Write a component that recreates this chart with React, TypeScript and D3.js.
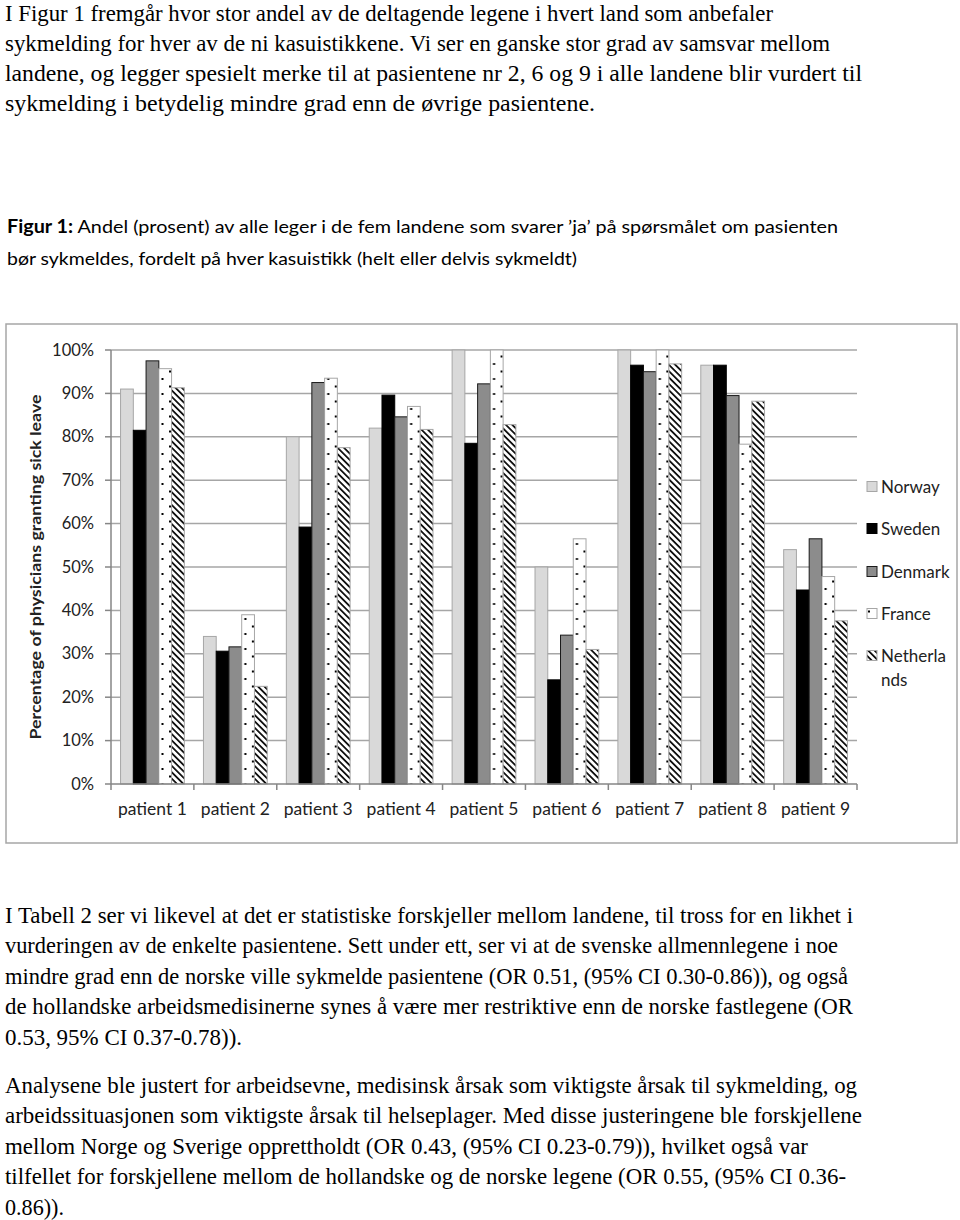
import React from "react";
import * as d3 from "d3";

const patients = ["patient 1", "patient 2", "patient 3", "patient 4", "patient 5", "patient 6", "patient 7", "patient 8", "patient 9"];
const countries = ["Norway", "Sweden", "Denmark", "France", "Netherlands"];
const norway = [91, 34, 80, 82, 100, 50, 100, 96.5, 54];
const sweden = [81.5, 30.6, 59.2, 89.6, 78.5, 24, 96.5, 96.5, 44.7];
const denmark = [97.5, 31.6, 92.5, 84.6, 92.2, 34.3, 95, 89.5, 56.5];
const france = [95.7, 39, 93.5, 87, 100, 56.5, 100, 78.3, 47.8];
const netherlands = [91.3, 22.5, 77.5, 81.7, 82.8, 31, 96.8, 88.2, 37.6];
const yTicks = [0, 10, 20, 30, 40, 50, 60, 70, 80, 90, 100];

const topText = [
  "I Figur 1 fremgår hvor stor andel av de deltagende legene i hvert land som anbefaler",
  "sykmelding for hver av de ni kasuistikkene. Vi ser en ganske stor grad av samsvar mellom",
  "landene, og legger spesielt merke til at pasientene nr 2, 6 og 9 i alle landene blir vurdert til",
  "sykmelding i betydelig mindre grad enn de øvrige pasientene.",
];
const topWidths = [768, 825, 857, 590];
const para1 = [
  "I Tabell 2 ser vi likevel at det er statistiske forskjeller mellom landene, til tross for en likhet i",
  "vurderingen av de enkelte pasientene. Sett under ett, ser vi at de svenske allmennlegene i noe",
  "mindre grad enn de norske ville sykmelde pasientene (OR 0.51, (95% CI 0.30-0.86)), og også",
  "de hollandske arbeidsmedisinerne synes å være mer restriktive enn de norske fastlegene (OR",
  "0.53, 95% CI 0.37-0.78)).",
];
const para1Widths = [848, 833, 843, 848, 237];
const para2 = [
  "Analysene ble justert for arbeidsevne, medisinsk årsak som viktigste årsak til sykmelding, og",
  "arbeidssituasjonen som viktigste årsak til helseplager. Med disse justeringene ble forskjellene",
  "mellom Norge og Sverige opprettholdt (OR 0.43, (95% CI 0.23-0.79)), hvilket også var",
  "tilfellet for forskjellene mellom de hollandske og de norske legene (OR 0.55, (95% CI 0.36-",
  "0.86)).",
];
const para2Widths = [852, 857, 803, 841, 59];

const series = [norway, sweden, denmark, france, netherlands];
const fills = ["#d9d9d9", "#000000", "#8c8c8c", "url(#dots)", "url(#hatch)"];
const strokes = ["#a6a6a6", "#000000", "#1a1a1a", "#a6a6a6", "#a6a6a6"];

export default function App() {
  const x0 = d3.scaleBand<string>().domain(patients).range([111, 857]).paddingInner(0).paddingOuter(0);
  const x1 = d3.scaleBand<string>().domain(countries).range([0, x0.bandwidth()]).paddingInner(0).paddingOuter(0.75);
  const y = d3.scaleLinear().domain([0, 100]).range([784, 350]);
  const serif = "'Liberation Serif', 'Times New Roman', serif";
  const sans = "Lato, 'Open Sans', sans-serif";
  const legendY = [487, 529, 572, 614, 656];
  const bodySize = 24;

  return (
    <svg width={960} height={1220} style={{ position: "absolute", left: 0, top: 0, background: "#fff" }}>
      <defs>
        <pattern id="dots" patternUnits="userSpaceOnUse" width={15} height={15}>
          <rect width={15} height={15} fill="#fff" />
          <rect x={5.5} y={3} width={2} height={2} fill="#000" />
          <rect x={13} y={10.5} width={2} height={2} fill="#000" />
        </pattern>
        <pattern id="hatch" patternUnits="userSpaceOnUse" width={4.5} height={4.5} patternTransform="rotate(-45)">
          <rect width={4.5} height={4.5} fill="#fff" />
          <rect x={0} y={0} width={1.8} height={4.5} fill="#111" />
        </pattern>
      </defs>
      <rect x={0} y={0} width={960} height={1220} fill="#fff" />

      {topText.map((t, i) => (
        <text key={"t" + i} x={5} y={20.5 + i * 30.3} fontFamily={serif} fontSize={bodySize} fill="#000"
          textLength={topWidths[i]} lengthAdjust="spacingAndGlyphs">{t}</text>
      ))}

      <text x={7} y={233} fontFamily={sans} fontSize={18} fill="#000" textLength={831} lengthAdjust="spacingAndGlyphs">
        <tspan fontWeight="bold">Figur 1:</tspan> Andel (prosent) av alle leger i de fem landene som svarer ’ja’ på spørsmålet om pasienten
      </text>
      <text x={7} y={265} fontFamily={sans} fontSize={18} fill="#000" textLength={570} lengthAdjust="spacingAndGlyphs">
        bør sykmeldes, fordelt på hver kasuistikk (helt eller delvis sykmeldt)
      </text>

      {/* chart frame */}
      <rect x={6} y={324} width={951} height={519} fill="#fff" stroke="#a6a6a6" strokeWidth={1.5} />

      {/* gridlines */}
      {yTicks.filter((v) => v > 0).map((v) => (
        <line key={"g" + v} x1={111} x2={857} y1={y(v)} y2={y(v)} stroke="#a6a6a6" strokeWidth={1.5} />
      ))}

      {/* bars */}
      {patients.map((p, pi) => (
        <g key={p} transform={`translate(${x0(p)},0)`}>
          {countries.map((c, ci) => (
            <rect key={c} x={x1(c)} y={y(series[ci][pi])} width={x1.bandwidth()} height={y(0) - y(series[ci][pi])}
              fill={fills[ci]} stroke={strokes[ci]} strokeWidth={1} />
          ))}
        </g>
      ))}

      {/* axes */}
      <line x1={111} x2={111} y1={y(100)} y2={y(0)} stroke="#868686" strokeWidth={1.5} />
      {yTicks.map((v) => (
        <g key={"yt" + v}>
          <line x1={105} x2={111} y1={y(v)} y2={y(v)} stroke="#868686" strokeWidth={1.5} />
          <text x={94} y={y(v) + 5.5} textAnchor="end" fontFamily={sans} fontSize={16.5} fill="#222">{v + "%"}</text>
        </g>
      ))}
      <line x1={111} x2={857} y1={y(0)} y2={y(0)} stroke="#868686" strokeWidth={1.5} />
      {[...patients.map((p) => x0(p) as number), 857].map((xv, i) => (
        <line key={"xt" + i} x1={xv} x2={xv} y1={y(0)} y2={y(0) + 6} stroke="#868686" strokeWidth={1.5} />
      ))}
      {patients.map((p) => (
        <text key={"xl" + p} x={(x0(p) as number) + x0.bandwidth() / 2} y={815} textAnchor="middle" fontFamily={sans} fontSize={16.5} fill="#222"
          textLength={69} lengthAdjust="spacingAndGlyphs">{p}</text>
      ))}

      <text transform="translate(41,567) rotate(-90)" textAnchor="middle" fontFamily={sans} fontSize={16} fontWeight="bold" fill="#222"
        textLength={345} lengthAdjust="spacingAndGlyphs">Percentage of physicians granting sick leave</text>

      {/* legend */}
      {countries.map((c, ci) => (
        <g key={"lg" + c}>
          <rect x={867} y={legendY[ci] - 5.5} width={10} height={10} fill={fills[ci]} stroke={strokes[ci]} strokeWidth={1} />
          {c === "Netherlands" ? (
            <text x={881} y={legendY[ci] + 5.5} fontFamily={sans} fontSize={17} fill="#222">
              <tspan x={881}>Netherla</tspan>
              <tspan x={881} dy={24}>nds</tspan>
            </text>
          ) : (
            <text x={881} y={legendY[ci] + 5.5} fontFamily={sans} fontSize={17} fill="#222">{c}</text>
          )}
        </g>
      ))}

      {para1.map((t, i) => (
        <text key={"p1" + i} x={5} y={922.5 + i * 30.6} fontFamily={serif} fontSize={bodySize} fill="#000"
          textLength={para1Widths[i]} lengthAdjust="spacingAndGlyphs">{t}</text>
      ))}
      {para2.map((t, i) => (
        <text key={"p2" + i} x={5} y={1092.5 + i * 30.6} fontFamily={serif} fontSize={bodySize} fill="#000"
          textLength={para2Widths[i]} lengthAdjust="spacingAndGlyphs">{t}</text>
      ))}
    </svg>
  );
}
